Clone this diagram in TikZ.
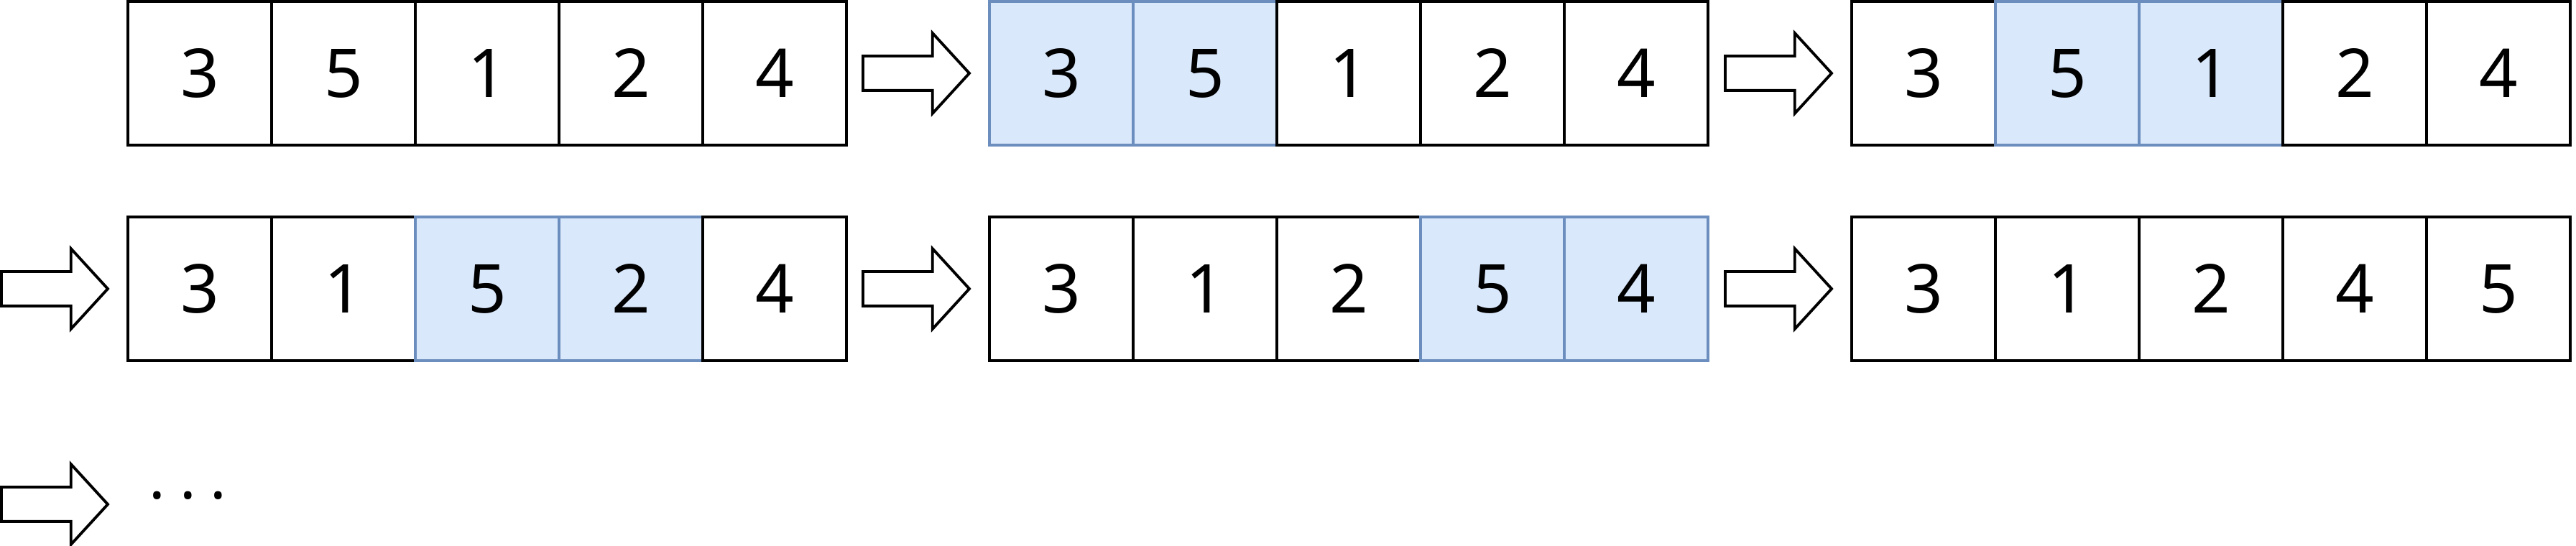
\documentclass[tikz,border=0pt]{standalone}
\usepackage{fontspec}
\setmainfont{Noto Sans}
\usetikzlibrary{positioning, shapes.arrows}
\definecolor{selline}{RGB}{108,142,191}
\definecolor{selfill}{RGB}{218,232,252}
\tikzstyle{cell}=[rectangle, minimum size = 2cm, inner sep=0, outer sep=0, draw=black, line width=1.1pt, fill=white, font=\fontsize{26.7}{32}\selectfont]
\tikzstyle{sel}=[cell, draw=selline, fill=selfill]
\tikzstyle{flow}=[single arrow, draw=black, line width=1.1pt, fill=white, inner xsep=0, inner ysep=0.22cm, outer sep=0, minimum height=1.48cm, single arrow head extend=0.32cm, single arrow tip angle=95]

\begin{document}
\begin{tikzpicture}
            \useasboundingbox (0,0) rectangle (35.85,7.6);
            %Left edges of the arrays
            \coordinate (p1-0) at (1.78,6.58);
            \coordinate (p2-0) at (13.77,6.58);
            \coordinate (p3-0) at (25.77,6.58);
            \coordinate (p4-0) at (1.78,3.58);
            \coordinate (p5-0) at (13.77,3.58);
            \coordinate (p6-0) at (25.77,3.58);
            \coordinate (p7-0) at (1.78,0.58);

            %Start array
            \foreach \v/\s [count=\n] in {3/cell,5/cell,1/cell,2/cell,4/cell}{
                \pgfmathtruncatemacro\nmm{\n -1}
                \node[\s, right = 0pt of p1-\nmm](p1-\n){\v};
            }
            %First comparison
            \foreach \v/\s [count=\n] in {3/sel,5/sel,1/cell,2/cell,4/cell}{
                \pgfmathtruncatemacro\nmm{\n -1}
                \node[\s, right = 0pt of p2-\nmm](p2-\n){\v};
            }
            %Second comparison
            \foreach \v/\s [count=\n] in {3/cell,5/sel,1/sel,2/cell,4/cell}{
                \pgfmathtruncatemacro\nmm{\n -1}
                \node[\s, right = 0pt of p3-\nmm](p3-\n){\v};
            }
            %Third comparison
            \foreach \v/\s [count=\n] in {3/cell,1/cell,5/sel,2/sel,4/cell}{
                \pgfmathtruncatemacro\nmm{\n -1}
                \node[\s, right = 0pt of p4-\nmm](p4-\n){\v};
            }
            %Fourth comparison
            \foreach \v/\s [count=\n] in {3/cell,1/cell,2/cell,5/sel,4/sel}{
                \pgfmathtruncatemacro\nmm{\n -1}
                \node[\s, right = 0pt of p5-\nmm](p5-\n){\v};
            }
            %End of the pass
            \foreach \v/\s [count=\n] in {3/cell,1/cell,2/cell,4/cell,5/cell}{
                \pgfmathtruncatemacro\nmm{\n -1}
                \node[\s, right = 0pt of p6-\nmm](p6-\n){\v};
            }

            %Arrows between the steps
            \foreach \n in {2,...,6}{
                \node[flow, left = 0.28cm of p\n-1](arr\n){};
            }
            \node[flow, left = 0.28cm of p7-0](arr7){};
            \node[right = 0.57cm of arr7, inner sep=0, font=\fontsize{24}{28}\selectfont](dots){·\hspace{5.7pt}·\hspace{5.7pt}·};
        \end{tikzpicture}
\end{document}
